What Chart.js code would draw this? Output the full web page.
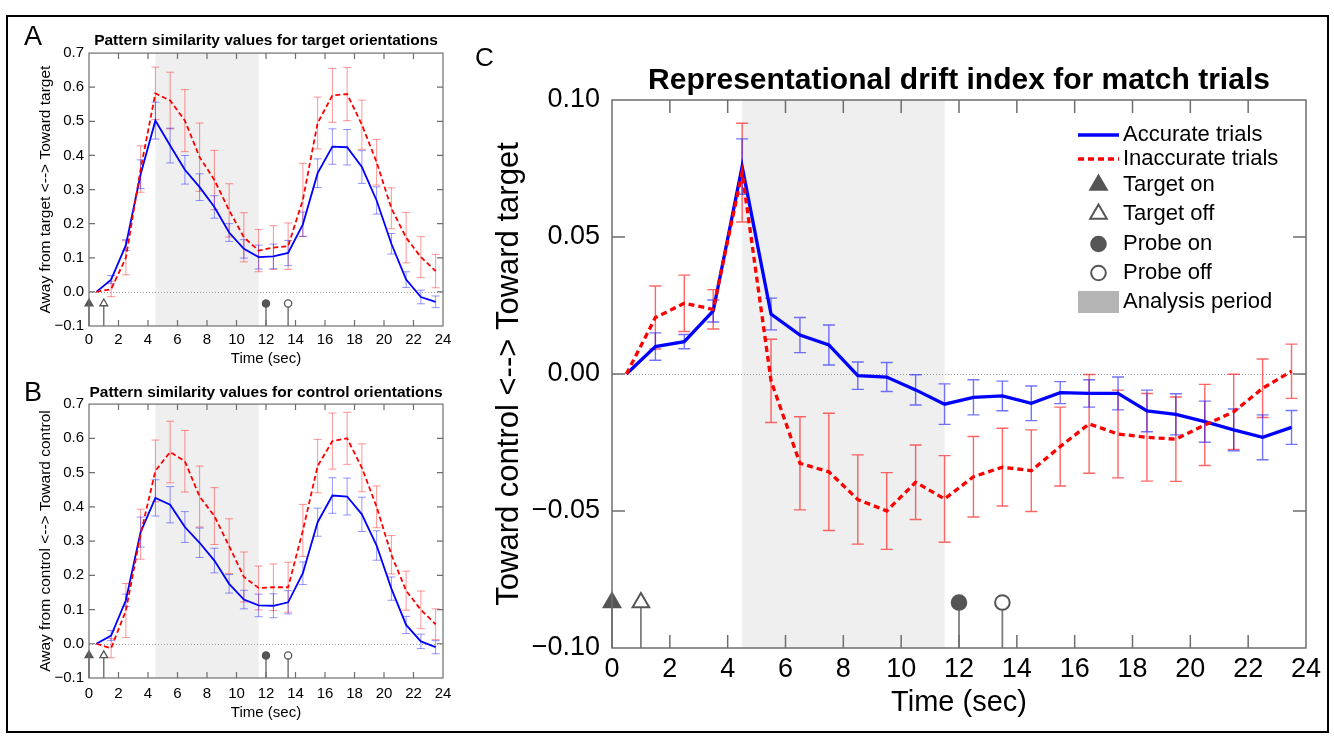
<!DOCTYPE html>
<html>
<head>
<meta charset="utf-8">
<script src="https://cdn.jsdelivr.net/npm/chart.js@4.4.1/dist/chart.umd.min.js"></script>
<style>
  body { margin: 0; background: #fff; width: 1334px; height: 737px; position: relative; overflow: hidden;
         font-family: 'Liberation Sans', Arial, sans-serif; }
  canvas { position: absolute; }
  .letter { position: absolute; line-height: 1; color: #000; }
  #border { position: absolute; left: 6px; top: 15px; width: 1323px; height: 718px; border: 2px solid #000; box-sizing: border-box; }
</style>
</head>
<body>
<div id="border"></div>
<canvas id="chartA" width="470" height="355" style="left:0;top:20px"></canvas>
<canvas id="chartB" width="470" height="355" style="left:0;top:375px"></canvas>
<canvas id="chartC" width="864" height="700" style="left:470px;top:30px"></canvas>
<div class="letter" style="left:24px;top:23px;font-size:27px">A</div>
<div class="letter" style="left:24px;top:379px;font-size:27px">B</div>
<div class="letter" style="left:475px;top:44px;font-size:26px">C</div>

<script>
// ---- data ----
const timePoints = [0.5, 1.5, 2.5, 3.5, 4.5, 5.5, 6.5, 7.5, 8.5, 9.5, 10.5, 11.5,
                    12.5, 13.5, 14.5, 15.5, 16.5, 17.5, 18.5, 19.5, 20.5, 21.5, 22.5, 23.5];
const seriesNames = ['Accurate trials', 'Inaccurate trials'];
const eventNames = ['Target on', 'Target off', 'Probe on', 'Probe off'];
const eventTimes = [0, 1, 12, 13.5];
const analysisPeriod = [4.5, 11.5];

// A: pattern similarity, target orientations
const targetAccurate = [0, 0.036, 0.137, 0.345, 0.502, 0.429, 0.358, 0.307, 0.249, 0.174, 0.126, 0.102,
                        0.104, 0.114, 0.198, 0.348, 0.426, 0.424, 0.366, 0.268, 0.141, 0.036, -0.015, -0.029];
const targetAccurateSem = [0, 0.012, 0.016, 0.042, 0.054, 0.051, 0.042, 0.039, 0.033, 0.026, 0.027, 0.035,
                           0.036, 0.037, 0.036, 0.042, 0.052, 0.052, 0.048, 0.040, 0.030, 0.023, 0.020, 0.017];
const targetInaccurate = [0, 0.008, 0.100, 0.360, 0.582, 0.561, 0.502, 0.395, 0.328, 0.239, 0.160, 0.121,
                          0.130, 0.134, 0.270, 0.495, 0.576, 0.580, 0.490, 0.380, 0.245, 0.159, 0.102, 0.061];
const targetInaccurateSem = [0, 0.022, 0.050, 0.068, 0.077, 0.083, 0.091, 0.100, 0.087, 0.078, 0.072, 0.062,
                             0.064, 0.068, 0.107, 0.076, 0.079, 0.078, 0.072, 0.067, 0.060, 0.074, 0.060, 0.049];

// B: pattern similarity, control orientations
const controlAccurate = [0, 0.024, 0.127, 0.326, 0.426, 0.406, 0.341, 0.295, 0.243, 0.175, 0.129, 0.112,
                         0.111, 0.121, 0.206, 0.355, 0.433, 0.430, 0.378, 0.287, 0.161, 0.055, 0.007, -0.010];
const controlAccurateSem = [0, 0.015, 0.018, 0.044, 0.053, 0.053, 0.045, 0.043, 0.036, 0.027, 0.027, 0.033,
                            0.035, 0.034, 0.033, 0.041, 0.052, 0.054, 0.050, 0.043, 0.034, 0.025, 0.021, 0.019];
const controlInaccurate = [0, -0.013, 0.097, 0.320, 0.505, 0.560, 0.533, 0.430, 0.373, 0.285, 0.195, 0.163,
                           0.165, 0.165, 0.331, 0.519, 0.592, 0.600, 0.514, 0.400, 0.260, 0.155, 0.099, 0.057];
const controlInaccurateSem = [0, 0.028, 0.079, 0.073, 0.090, 0.090, 0.090, 0.089, 0.083, 0.080, 0.073, 0.064,
                              0.068, 0.073, 0.076, 0.078, 0.082, 0.076, 0.070, 0.061, 0.056, 0.057, 0.055, 0.045];

// C: representational drift index
const driftAccurate = [0, 0.0100, 0.0118, 0.0230, 0.0757, 0.0219, 0.0142, 0.0106, -0.0006, -0.0011, -0.0058, -0.0110,
                       -0.0085, -0.0080, -0.0107, -0.0068, -0.0071, -0.0071, -0.0135, -0.0147, -0.0174, -0.0204, -0.0231, -0.0195];
const driftAccurateSem = [0, 0.0050, 0.0026, 0.0040, 0.0101, 0.0058, 0.0064, 0.0073, 0.0050, 0.0053, 0.0055, 0.0074,
                          0.0064, 0.0054, 0.0063, 0.0040, 0.0050, 0.0060, 0.0076, 0.0075, 0.0075, 0.0076, 0.0082, 0.0062];
const driftInaccurate = [0, 0.0206, 0.0258, 0.0236, 0.0735, -0.0025, -0.0326, -0.0357, -0.0458, -0.0500, -0.0395, -0.0456,
                         -0.0375, -0.0340, -0.0353, -0.0265, -0.0182, -0.0219, -0.0231, -0.0238, -0.0186, -0.0138, -0.0052, 0.0010];
const driftInaccurateSem = [0, 0.0115, 0.0103, 0.0072, 0.0180, 0.0152, 0.0170, 0.0214, 0.0163, 0.0140, 0.0136, 0.0158,
                            0.0147, 0.0142, 0.0149, 0.0144, 0.0180, 0.0160, 0.0160, 0.0154, 0.0148, 0.0137, 0.0107, 0.0099];

// ---- styling ----
Chart.defaults.font.family = "'Liberation Sans', Arial, sans-serif";
Chart.defaults.color = '#000';
const AXIS = '#6e6e6e';
const MARK = '#555';
const eventShapes = ['triangle', 'triangle', 'circle', 'circle'];
const eventFilled = [true, false, true, false];

const signed = d => v => (v < -1e-9 ? '\u2212' : '') + Math.abs(v).toFixed(d);
const pts = vals => timePoints.map((t, i) => ({ x: t, y: vals[i] }));

const decor = {
  id: 'decor',
  beforeDatasetsDraw(chart, args, o) {
    const { ctx, chartArea: a, scales: { x, y } } = chart;
    ctx.save();
    // analysis period
    const x0 = x.getPixelForValue(analysisPeriod[0]);
    const x1 = x.getPixelForValue(analysisPeriod[1]);
    ctx.fillStyle = '#efefef';
    ctx.fillRect(x0, a.top, x1 - x0, a.bottom - a.top);
    // zero reference
    const yz = Math.round(y.getPixelForValue(0)) + 0.5;
    ctx.strokeStyle = '#9a9a9a';
    ctx.lineWidth = 1;
    ctx.setLineDash([1, 2]);
    ctx.beginPath(); ctx.moveTo(a.left, yz); ctx.lineTo(a.right, yz); ctx.stroke();
    ctx.setLineDash([]);
    // event stems
    ctx.strokeStyle = '#777';
    ctx.lineWidth = o.stem;
    eventTimes.forEach(t => {
      const px = x.getPixelForValue(t);
      ctx.beginPath(); ctx.moveTo(px, a.bottom); ctx.lineTo(px, y.getPixelForValue(o.markerLevel)); ctx.stroke();
    });
    // error bars
    chart.data.datasets.forEach(ds => {
      if (!ds.errors) return;
      ctx.strokeStyle = ds.errColor;
      ctx.lineWidth = o.errWidth;
      ds.data.forEach((p, j) => {
        const e = ds.errors[j];
        if (!e) return;
        const px = x.getPixelForValue(p.x);
        const hi = y.getPixelForValue(p.y + e), lo = y.getPixelForValue(p.y - e);
        ctx.beginPath();
        ctx.moveTo(px, hi); ctx.lineTo(px, lo);
        ctx.moveTo(px - o.cap, hi); ctx.lineTo(px + o.cap, hi);
        ctx.moveTo(px - o.cap, lo); ctx.lineTo(px + o.cap, lo);
        ctx.stroke();
      });
    });
    ctx.restore();
  },
  afterDatasetsDraw(chart, args, o) {
    const { ctx, chartArea: a, scales: { x, y } } = chart;
    ctx.save();
    ctx.strokeStyle = AXIS;
    ctx.lineWidth = o.frame;
    ctx.strokeRect(a.left, a.top, a.right - a.left, a.bottom - a.top);
    ctx.beginPath();
    x.ticks.forEach(t => {
      if (t.value <= x.min || t.value >= x.max) return;
      const px = x.getPixelForValue(t.value);
      ctx.moveTo(px, a.bottom); ctx.lineTo(px, a.bottom - o.tick);
      ctx.moveTo(px, a.top); ctx.lineTo(px, a.top + o.tick);
    });
    y.ticks.forEach(t => {
      if (t.value <= y.min + 1e-9 || t.value >= y.max - 1e-9) return;
      const py = y.getPixelForValue(t.value);
      ctx.moveTo(a.left, py); ctx.lineTo(a.left + o.tick, py);
      ctx.moveTo(a.right, py); ctx.lineTo(a.right - o.tick, py);
    });
    ctx.stroke();
    ctx.restore();
  },
  afterDraw(chart, args, o) {
    if (!o.legend) return;
    const { ctx, chartArea: a } = chart;
    const L = o.legend;
    const lx0 = a.left + L.line[0], lx1 = a.left + L.line[1], mx = (lx0 + lx1) / 2, tx = a.left + L.text;
    const rowY = L.rows.map(r => a.top + r);
    ctx.save();
    ctx.font = L.size + "px 'Liberation Sans', Arial, sans-serif";
    ctx.textBaseline = 'middle';
    ctx.fillStyle = '#000';
    const lines = chart.data.datasets.filter(d => d.errors);
    [seriesNames[0], seriesNames[1]].forEach((name, i) => {
      const ds = lines.find(d => d.label === name);
      ctx.strokeStyle = ds.borderColor;
      ctx.lineWidth = ds.borderWidth;
      ctx.setLineDash(ds.borderDash || []);
      ctx.beginPath(); ctx.moveTo(lx0, rowY[i]); ctx.lineTo(lx1, rowY[i]); ctx.stroke();
      ctx.setLineDash([]);
      ctx.fillText(name, tx, rowY[i]);
    });
    eventNames.forEach((name, i) => {
      const ds = chart.data.datasets.find(d => d.label === name);
      ctx.fillStyle = ds.pointBackgroundColor;
      ctx.strokeStyle = ds.pointBorderColor;
      ctx.lineWidth = ds.pointBorderWidth;
      Chart.helpers.drawPoint(ctx, { pointStyle: ds.pointStyle, radius: ds.pointRadius, borderWidth: ds.pointBorderWidth, rotation: 0 }, mx, rowY[2 + i]);
      ctx.fillStyle = '#000';
      ctx.fillText(name, tx, rowY[2 + i]);
    });
    ctx.fillStyle = '#b4b4b4';
    ctx.fillRect(lx0, rowY[6] - L.box / 2, lx1 - lx0, L.box);
    ctx.fillStyle = '#000';
    ctx.fillText('Analysis period', tx, rowY[6]);
    ctx.restore();
  }
};

function panel(id, p) {
  const datasets = [
    { label: seriesNames[1], data: pts(p.inacc), errors: p.inaccErr, errColor: p.redErr,
      borderColor: '#ff0000', borderWidth: p.lw, borderDash: p.dash, pointRadius: 0, tension: 0, order: 0 },
    { label: seriesNames[0], data: pts(p.acc), errors: p.accErr, errColor: p.blueErr,
      borderColor: '#0000ff', borderWidth: p.lw, pointRadius: 0, tension: 0, order: 1 }
  ];
  eventTimes.forEach((t, i) => datasets.push({
    label: eventNames[i], data: [{ x: t, y: p.markerLevel }], showLine: false, clip: false, order: 2,
    pointStyle: eventShapes[i], pointRadius: eventShapes[i] === 'triangle' ? p.triR : p.circR,
    pointBackgroundColor: eventFilled[i] ? MARK : '#fff', pointBorderColor: MARK, pointBorderWidth: p.mbw
  }));

  return new Chart(document.getElementById(id), {
    type: 'line',
    data: { datasets },
    plugins: [decor],
    options: {
      responsive: false,
      animation: false,
      devicePixelRatio: 1,
      events: [],
      layout: { padding: { left: 0, right: p.padR, top: 0, bottom: 0 } },
      plugins: {
        legend: { display: false },
        tooltip: { enabled: false },
        title: { display: true, text: p.title, fullSize: false, font: { size: p.titleSize, weight: 'bold' },
                 padding: { top: p.titleTop, bottom: p.titleBottom } },
        decor: { markerLevel: p.markerLevel, stem: p.stem, errWidth: p.errW, cap: p.cap,
                 frame: p.frame, tick: p.tick, legend: p.legend }
      },
      scales: {
        x: {
          type: 'linear', min: 0, max: 24,
          afterFit: s => { s.height = p.xh; },
          ticks: { stepSize: 2, padding: p.xtp, font: { size: p.tickSize }, maxRotation: 0, autoSkip: false },
          grid: { display: false, drawTicks: false },
          border: { display: false },
          title: { display: true, text: 'Time (sec)', font: { size: p.xTitleSize }, padding: { top: 0, bottom: p.xtb } }
        },
        y: {
          min: p.ymin, max: p.ymax,
          afterFit: s => { s.width = p.yw; },
          ticks: { stepSize: p.ystep, padding: p.ytp, font: { size: p.tickSize }, callback: signed(p.dec) },
          grid: { display: false, drawTicks: false },
          border: { display: false },
          title: { display: true, text: p.ylabel, font: { size: p.yTitleSize }, padding: { top: p.ytt, bottom: 0 } }
        }
      }
    }
  });
}

const small = {
  ymin: -0.1, ymax: 0.7, ystep: 0.1, dec: 1, markerLevel: -0.034,
  lw: 1.8, dash: [5, 3], redErr: 'rgba(255,0,0,0.42)', blueErr: 'rgba(0,0,255,0.42)',
  errW: 1, cap: 4, stem: 1.5, frame: 1.2, tick: 6, triR: 4.5, circR: 3.6, mbw: 1.3,
  titleSize: 15.5, tickSize: 15, xTitleSize: 15, yTitleSize: 15.5,
  yw: 89, ytp: 5, ytt: 36, padR: 27
};

panel('chartA', Object.assign({}, small, {
  title: 'Pattern similarity values for target orientations',
  ylabel: 'Away from target <--> Toward target',
  acc: targetAccurate, accErr: targetAccurateSem, inacc: targetInaccurate, inaccErr: targetInaccurateSem,
  titleTop: 11.5, titleBottom: 3, xh: 49, xtp: 5, xtb: 7
}));

panel('chartB', Object.assign({}, small, {
  title: 'Pattern similarity values for control orientations',
  ylabel: 'Away from control <--> Toward control',
  acc: controlAccurate, accErr: controlAccurateSem, inacc: controlInaccurate, inaccErr: controlInaccurateSem,
  titleTop: 8.5, titleBottom: 2, xh: 52, xtp: 6.5, xtb: 8.5
}));

panel('chartC', {
  title: 'Representational drift index for match trials',
  ylabel: 'Toward control <--> Toward target',
  acc: driftAccurate, accErr: driftAccurateSem, inacc: driftInaccurate, inaccErr: driftInaccurateSem,
  ymin: -0.1, ymax: 0.1, ystep: 0.05, dec: 2, markerLevel: -0.0834,
  lw: 3.3, dash: [6, 4], redErr: 'rgba(255,0,0,0.6)', blueErr: 'rgba(0,0,255,0.55)',
  errW: 1.4, cap: 6, stem: 1.7, frame: 1.5, tick: 13, triR: 9.6, circR: 7.3, mbw: 2,
  titleSize: 30, tickSize: 27, xTitleSize: 29, yTitleSize: 31,
  titleTop: 33, titleBottom: 1, yw: 142, ytp: 12, ytt: 21, padR: 28,
  xh: 82, xtp: 5.8, xtb: 9.6,
  legend: { line: [466, 507], text: 511, rows: [35, 59, 85, 114, 144, 173, 202], size: 22, box: 22 }
});
</script>
</body>
</html>
